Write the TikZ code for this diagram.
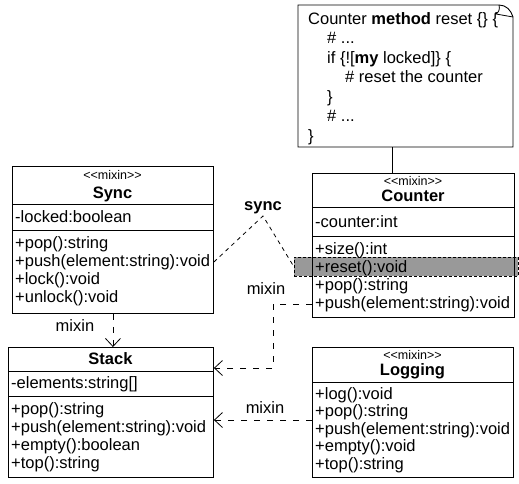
\documentclass[tikz,border=0pt]{standalone}
\usepackage{fontspec}
\setmainfont{Liberation Sans}
\usetikzlibrary{arrows.meta}
\begin{document}
\begin{tikzpicture}[x=1pt,y=-1pt,
  box/.style={draw, line width=0.9pt, inner sep=0pt, anchor=north west},
  txt/.style={anchor=base west, inner sep=0pt, font=\fontsize{16.5}{18}\selectfont},
  ttl/.style={anchor=base, inner sep=0pt, font=\fontsize{16.5}{18}\selectfont\bfseries},
  stereo/.style={anchor=base, inner sep=0pt, font=\fontsize{12.5}{13}\selectfont},
  sepline/.style={line width=0.9pt},
  lbl/.style={anchor=base, inner sep=0pt, font=\fontsize{16.5}{18}\selectfont},
  dep/.style={line width=0.8pt, dash pattern=on 6pt off 7pt, -{Straight Barb[length=8pt,width=15pt,line width=0.8pt]}},
  syncline/.style={line width=0.8pt, dash pattern=on 4pt off 4pt},
  hl/.style={fill=black!40, draw, line width=0.8pt, dash pattern=on 3pt off 2pt, inner sep=0pt, anchor=north west}
]
\useasboundingbox (0,0) rectangle (519,483);

% ---------- note ----------
\draw[line width=0.9pt] (298,5) -- (499,5) .. controls (506,5) and (511,10) .. (513,17) -- (513,147) -- (298,147) -- cycle;
\draw[line width=0.8pt] (499,5) .. controls (500,9) and (499,12) .. (496,14) -- (513,17);
\coordinate (notebot) at (392,147);
\node[txt] (n1) at (308,24) {Counter \textbf{method} reset \{\} \{};
\node[txt] (n2) at (327,43.5) {\# ...};
\node[txt] (n3) at (327,63) {if \{![\textbf{my} locked]\} \{};
\node[txt] (n4) at (345,82.5) {\# reset the counter};
\node[txt] (n5) at (327,102) {\}};
\node[txt] (n6) at (327,121.5) {\# ...};
\node[txt] (n7) at (308,141) {\}};

% ---------- Sync ----------
\node[box, minimum width=201pt, minimum height=147pt] (sync) at (12,166) {};
\node[stereo] (syncst) at (112.5,179) {<\kern0pt<mixin>\kern0pt>};
\node[ttl] (syncnm) at (112.5,198) {Sync};
\draw[sepline] (12,204) -- (213,204);
\draw[sepline] (12,230) -- (213,230);
\node[txt] (sa1) at (15,222) {-locked:boolean};
\node[txt] (sm1) at (15,248) {+pop():string};
\node[txt] (sm2) at (15,266) {+push(element:string):void};
\node[txt] (sm3) at (15,284) {+lock():void};
\node[txt] (sm4) at (15,302) {+unlock():void};

% ---------- Counter ----------
\node[hl, minimum width=224pt, minimum height=19pt] (hlrect) at (294,257) {};
\node[box, minimum width=202pt, minimum height=144pt] (counter) at (312,173) {};
\node[stereo] (cst) at (413,185) {<\kern0pt<mixin>\kern0pt>};
\node[ttl] (cnm) at (413,201) {Counter};
\draw[sepline] (312,207) -- (514,207);
\draw[sepline] (312,236) -- (514,236);
\node[txt] (ca1) at (315,227) {-counter:int};
\node[txt] (cm1) at (315,254) {+size():int};
\node[txt] (cm2) at (315,272) {+reset():void};
\node[txt] (cm3) at (315,290) {+pop():string};
\node[txt] (cm4) at (315,308) {+push(element:string):void};

% ---------- Stack ----------
\node[box, minimum width=205pt, minimum height=130pt] (stack) at (8,347) {};
\node[ttl] (stnm) at (110.5,364) {Stack};
\draw[sepline] (8,371) -- (213,371);
\draw[sepline] (8,396) -- (213,396);
\node[txt] (ta1) at (11,388) {-elements:string[]};
\node[txt] (tm1) at (11,414) {+pop():string};
\node[txt] (tm2) at (11,432) {+push(element:string):void};
\node[txt] (tm3) at (11,450) {+empty():boolean};
\node[txt] (tm4) at (11,468) {+top():string};

% ---------- Logging ----------
\node[box, minimum width=201pt, minimum height=130pt] (logging) at (312,347) {};
\node[stereo] (lst) at (412.5,359) {<\kern0pt<mixin>\kern0pt>};
\node[ttl] (lnm) at (412.5,375) {Logging};
\draw[sepline] (312,382) -- (513,382);
\node[txt] (lm1) at (315,399) {+log():void};
\node[txt] (lm2) at (315,416.5) {+pop():string};
\node[txt] (lm3) at (315,434) {+push(element:string):void};
\node[txt] (lm4) at (315,451.5) {+empty():void};
\node[txt] (lm5) at (315,469) {+top():string};

% ---------- connectors ----------
\draw[line width=0.9pt] (notebot) -- (counter.north -| notebot);

\draw[dep] (sync.south) -- (sync.south |- stack.north);
\node[lbl] (l1) at (75,331) {mixin};

\coordinate (cbend1) at (273,304);
\coordinate (cbend2) at (273,368);
\draw[dep] (counter.west |- cbend1) -- (cbend1) -- (cbend2) -- (stack.east |- cbend2);
\node[lbl] (l2) at (266,294) {mixin};

\coordinate (lgy) at (0,420);
\draw[dep] (logging.west |- lgy) -- (stack.east |- lgy);
\node[lbl] (l3) at (265,413) {mixin};

\node[ttl] (synclbl) at (263,210) {sync};
\coordinate (apex) at (263,216);
\draw[syncline] (sync.east |- 0,262) -- (apex) -- (hlrect.west);
\end{tikzpicture}
\end{document}
